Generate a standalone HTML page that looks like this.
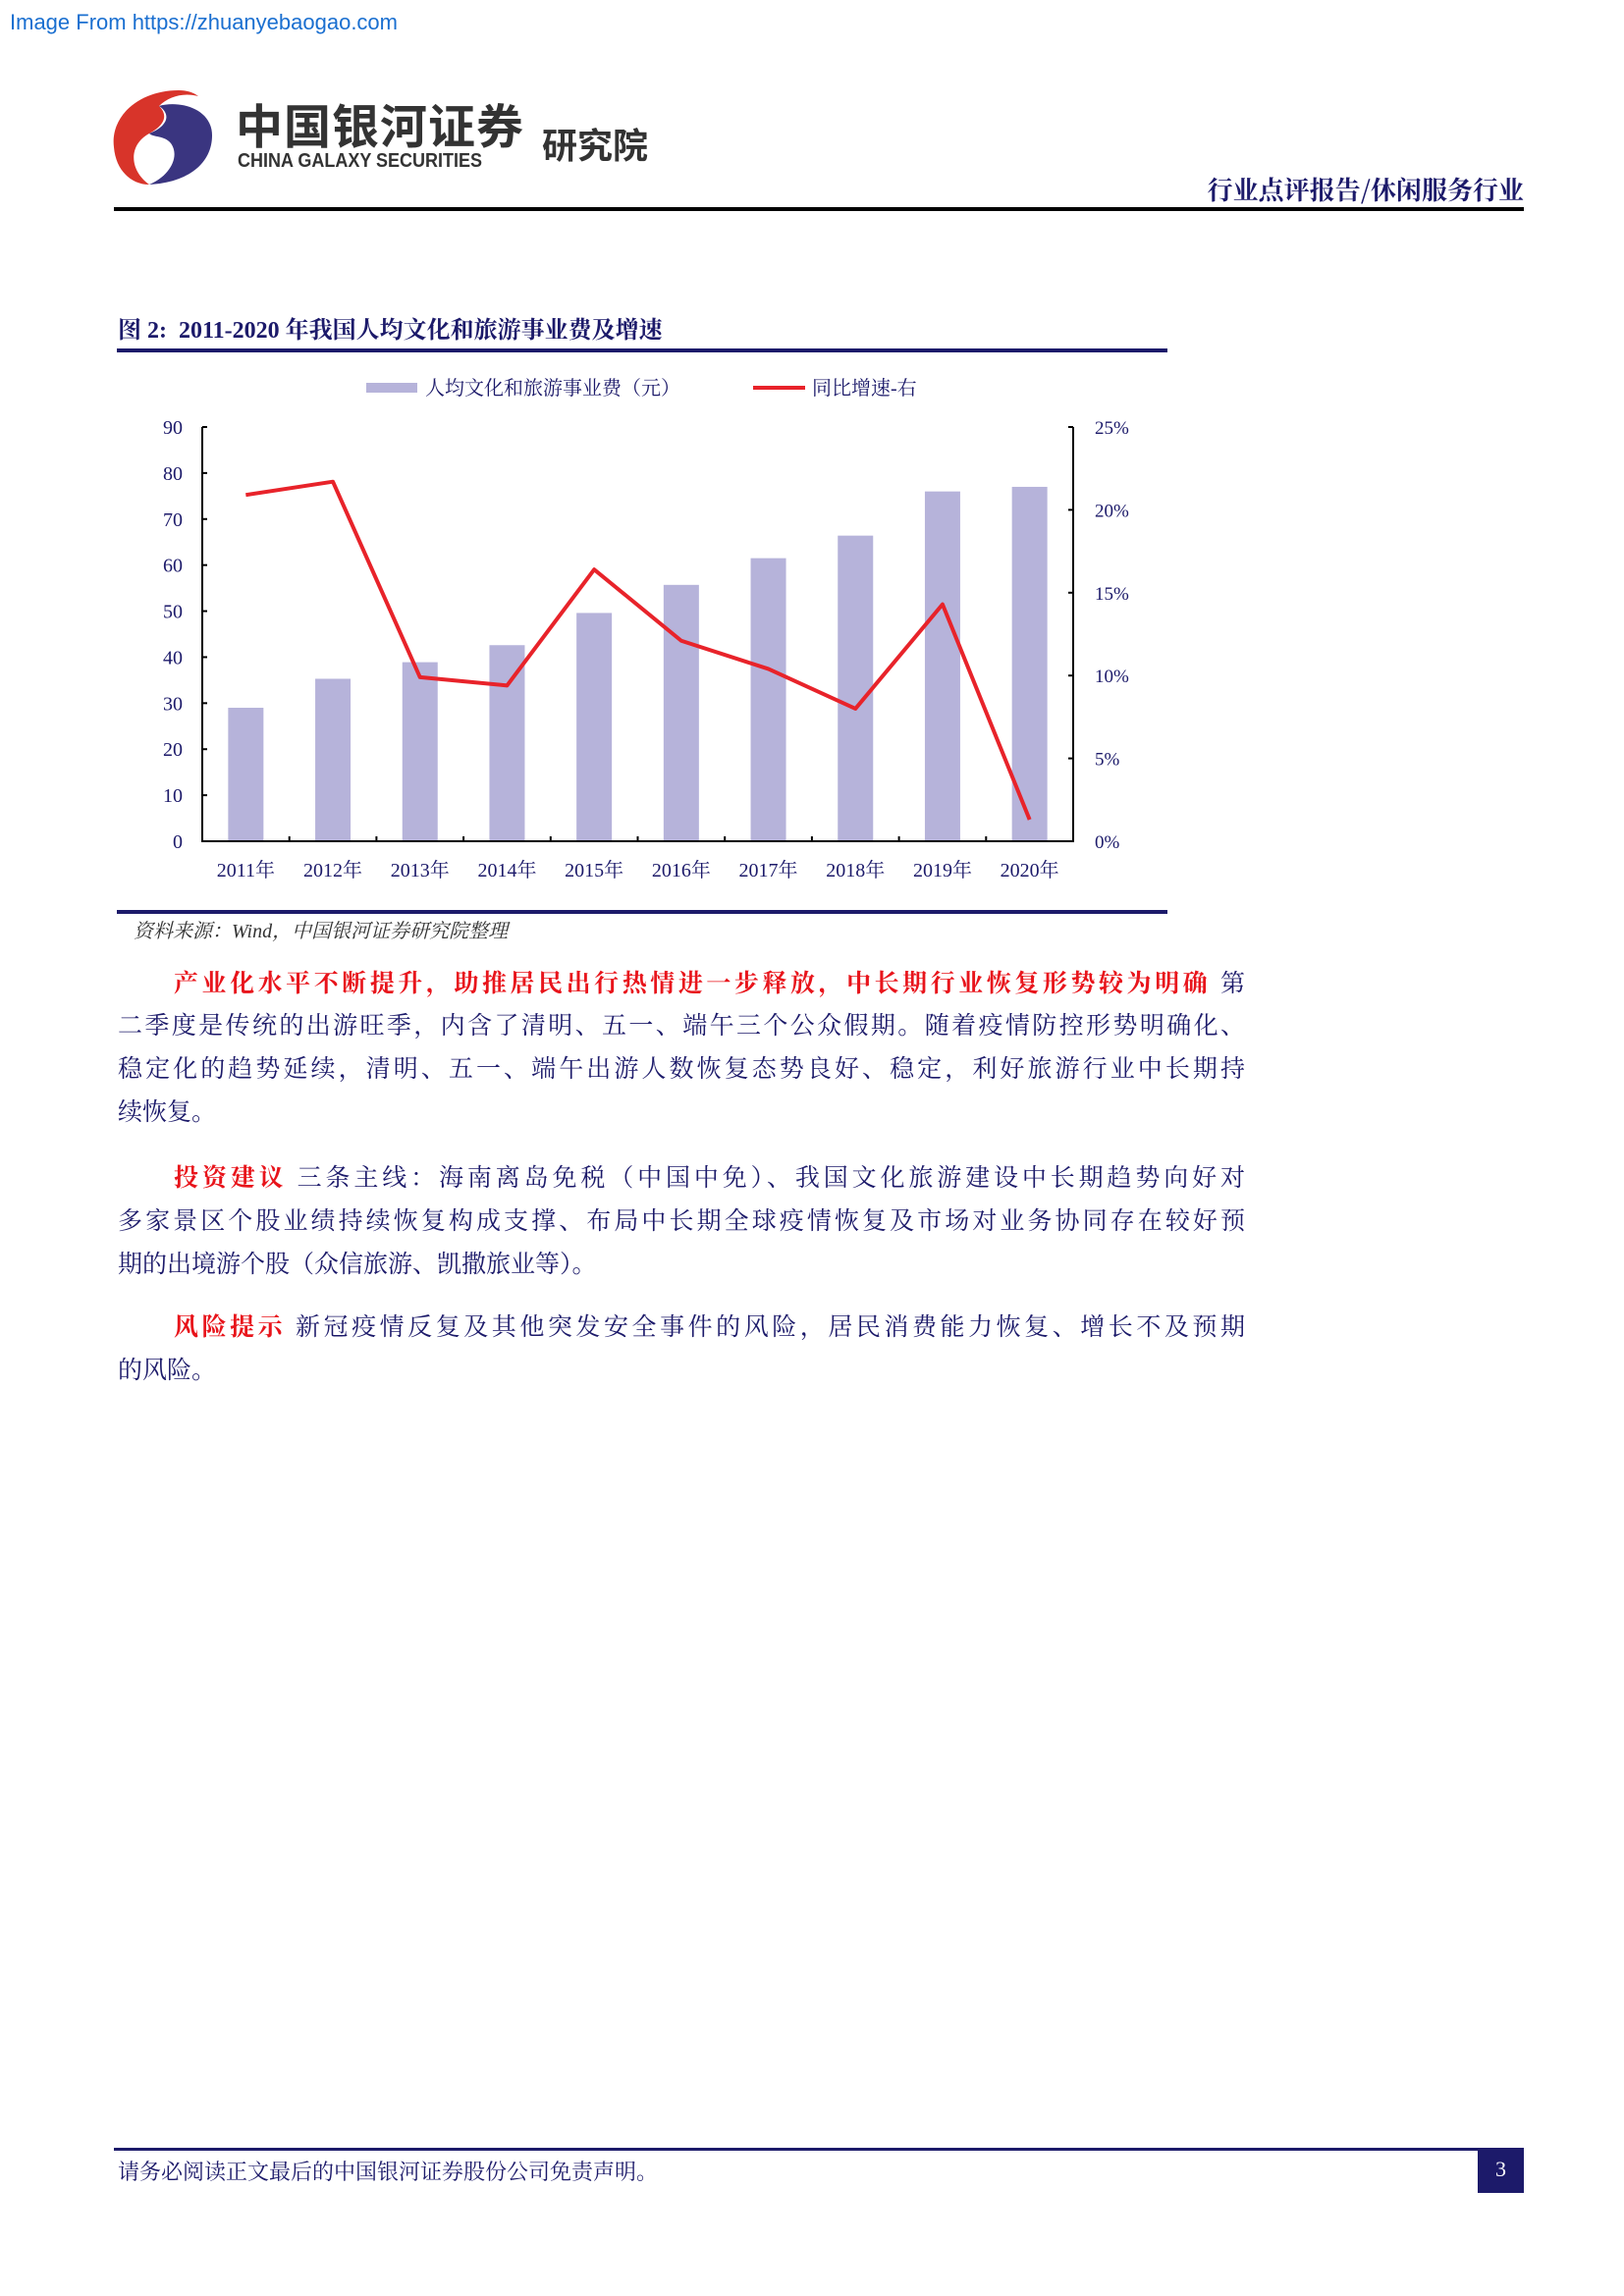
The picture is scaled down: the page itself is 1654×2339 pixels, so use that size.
<!DOCTYPE html>
<html><head><meta charset="utf-8"><style>
body{margin:0;width:1654px;height:2339px;background:#fff;position:relative;font-family:"Liberation Serif","Noto Serif CJK SC",serif;overflow:hidden}
.a{position:absolute}
.line{position:absolute;left:120px;width:1148px;font-size:25px;color:#1c1a6a;text-align:justify;text-align-last:justify;white-space:nowrap;line-height:30px}
.last{text-align-last:left}
.red{color:#e8141b;font-weight:bold}
</style></head><body>
<div class="a" style="left:10px;top:10px;font:22px 'Liberation Sans',sans-serif;color:#1a6fd0">Image From https://zhuanyebaogao.com</div>
<svg class="a" style="left:112px;top:88px" width="110" height="102" viewBox="0 0 110 102">
<path d="M70 4 C30 4 0 30 4 62 C6 86 22 100 40 100 C20 86 18 60 40 48 C55 40 60 30 50 20 C60 10 75 6 90 10 C85 6 78 4 70 4Z" fill="#d8342a"/>
<path d="M50 20 C70 14 104 22 104 50 C104 78 80 98 40 100 C60 92 72 72 62 58 C56 50 44 52 40 48 C60 40 62 28 50 20Z" fill="#3a3580"/>
</svg>
<div class="a" style="left:240px;top:98px;font:bold 48px 'Noto Sans CJK SC',sans-serif;color:#333;letter-spacing:1px;line-height:54px">中国银河证券</div>
<div class="a" style="left:242px;top:153px;font:bold 20px 'Liberation Sans',sans-serif;color:#333;transform:scaleX(.9);transform-origin:left">CHINA GALAXY SECURITIES</div>
<div class="a" style="left:552px;top:120px;font:bold 36px 'Noto Sans CJK SC',sans-serif;color:#333">研究院</div>
<div class="a" style="right:102px;top:174px;font:bold 26px 'Noto Serif CJK SC',serif;color:#1c1a6a">行业点评报告/休闲服务行业</div>
<div class="a" style="left:116px;top:211px;width:1436px;height:4px;background:#000"></div>

<div class="a" style="left:120px;top:316px;font:bold 24px 'Liberation Serif','Noto Serif CJK SC',serif;color:#1c1a6a">图 2:&nbsp; 2011-2020 年我国人均文化和旅游事业费及增速</div>
<div class="a" style="left:119px;top:355px;width:1070px;height:4px;background:#1c1a6a"></div>

<svg class="a" id="chart" style="left:0;top:370px" width="1250" height="540"></svg>

<div class="a" style="left:119px;top:927px;width:1070px;height:4px;background:#1c1a6a"></div>
<div class="a" style="left:136px;top:932px;font:italic 20px 'Liberation Serif','Noto Serif CJK SC',serif;color:#333">资料来源：Wind，中国银河证券研究院整理</div>

<div class="line" style="top:988px;left:177px;width:1091px"><span class="red">产业化水平不断提升，助推居民出行热情进一步释放，中长期行业恢复形势较为明确</span> 第</div>
<div class="line" style="top:1031px">二季度是传统的出游旺季，内含了清明、五一、端午三个公众假期。随着疫情防控形势明确化、</div>
<div class="line" style="top:1075px">稳定化的趋势延续，清明、五一、端午出游人数恢复态势良好、稳定，利好旅游行业中长期持</div>
<div class="line last" style="top:1119px">续恢复。</div>

<div class="line" style="top:1186px;left:177px;width:1091px"><span class="red">投资建议</span> 三条主线：海南离岛免税（中国中免）、我国文化旅游建设中长期趋势向好对</div>
<div class="line" style="top:1230px">多家景区个股业绩持续恢复构成支撑、布局中长期全球疫情恢复及市场对业务协同存在较好预</div>
<div class="line last" style="top:1274px">期的出境游个股（众信旅游、凯撒旅业等）。</div>

<div class="line" style="top:1338px;left:177px;width:1091px"><span class="red">风险提示</span> 新冠疫情反复及其他突发安全事件的风险，居民消费能力恢复、增长不及预期</div>
<div class="line last" style="top:1382px">的风险。</div>

<div class="a" style="left:116px;top:2188px;width:1436px;height:3px;background:#1c1a6a"></div>
<div class="a" style="left:120px;top:2196px;font:22px 'Liberation Serif','Noto Serif CJK SC',serif;color:#1c1a6a">请务必阅读正文最后的中国银河证券股份公司免责声明。</div>
<div class="a" style="left:1505px;top:2189px;width:47px;height:45px;background:#1c1a6a;color:#fff;font:22px 'Liberation Serif',serif;text-align:center;line-height:42px">3</div>

<script>
const categories=["2011年","2012年","2013年","2014年","2015年","2016年","2017年","2018年","2019年","2020年"];
const spending=[29,35.3,38.9,42.6,49.6,55.7,61.5,66.4,76,77];
const growth=[20.9,21.7,9.9,9.4,16.4,12.1,10.4,8.0,14.3,1.3];
const leftTicks=[0,10,20,30,40,50,60,70,80,90];
const rightTicks=[0,5,10,15,20,25];
const NS="http://www.w3.org/2000/svg";
const svg=document.getElementById('chart');
const X0=206,X1=1093,Y0=487,Y1=65;
const yL=v=>Y0-(v/90)*(Y0-Y1);
const yR=v=>Y0-(v/25)*(Y0-Y1);
const band=(X1-X0)/categories.length;
const xc=i=>X0+band*(i+0.5);
function mk(tag,attrs,name,txt){const e=document.createElementNS(NS,tag);for(const k in attrs)e.setAttribute(k,attrs[k]);if(txt!==undefined)e.textContent=txt;svg.appendChild(e);return e;}
const font="'Liberation Serif','Noto Serif CJK SC',serif";
// legend
mk('rect',{x:373,y:20,width:52,height:10,fill:'#b6b3da'},'legend-swatch-spending');
mk('text',{x:433,y:32,'font-size':20,fill:'#1c1a6a','font-family':font},'legend-label-spending','人均文化和旅游事业费（元）');
mk('line',{x1:767,y1:25,x2:820,y2:25,stroke:'#e8232a','stroke-width':4},'legend-swatch-growth');
mk('text',{x:827,y:32,'font-size':20,fill:'#1c1a6a','font-family':font},'legend-label-growth','同比增速-右');
// bars
spending.forEach((v,i)=>{mk('rect',{x:xc(i)-18,y:yL(v),width:36,height:Y0-yL(v),fill:'#b6b3da'},'bar-'+categories[i]);});
// axes
mk('line',{x1:X0,y1:Y1,x2:X0,y2:Y0+1,stroke:'#000','stroke-width':2},'y-axis-left');
mk('line',{x1:X1,y1:Y1,x2:X1,y2:Y0+1,stroke:'#000','stroke-width':2},'y-axis-right');
mk('line',{x1:X0,y1:Y0,x2:X1,y2:Y0,stroke:'#000','stroke-width':2},'x-axis');
leftTicks.forEach(t=>{mk('line',{x1:X0,y1:yL(t),x2:X0+5,y2:yL(t),stroke:'#000','stroke-width':2},'y-left-tick');
mk('text',{x:186,y:yL(t)+7,'font-size':20,fill:'#1c1a6a','text-anchor':'end','font-family':font},'y-left-tick-label',String(t));});
rightTicks.forEach(t=>{mk('line',{x1:X1-5,y1:yR(t),x2:X1,y2:yR(t),stroke:'#000','stroke-width':2},'y-right-tick');
mk('text',{x:1115,y:yR(t)+7,'font-size':19,fill:'#1c1a6a','font-family':font},'y-right-tick-label',t+'%');});
categories.forEach((c,i)=>{if(i>0)mk('line',{x1:X0+band*i,y1:Y0,x2:X0+band*i,y2:Y0-5,stroke:'#000','stroke-width':2},'x-tick');
mk('text',{x:xc(i),y:Y0+36,'font-size':20,fill:'#1c1a6a','text-anchor':'middle','font-family':font},'x-tick-label',c);});
// line
mk('polyline',{points:growth.map((v,i)=>xc(i)+','+yR(v)).join(' '),fill:'none',stroke:'#e8232a','stroke-width':4,'stroke-linejoin':'round'},'growth-line');
</script>
</body></html>
